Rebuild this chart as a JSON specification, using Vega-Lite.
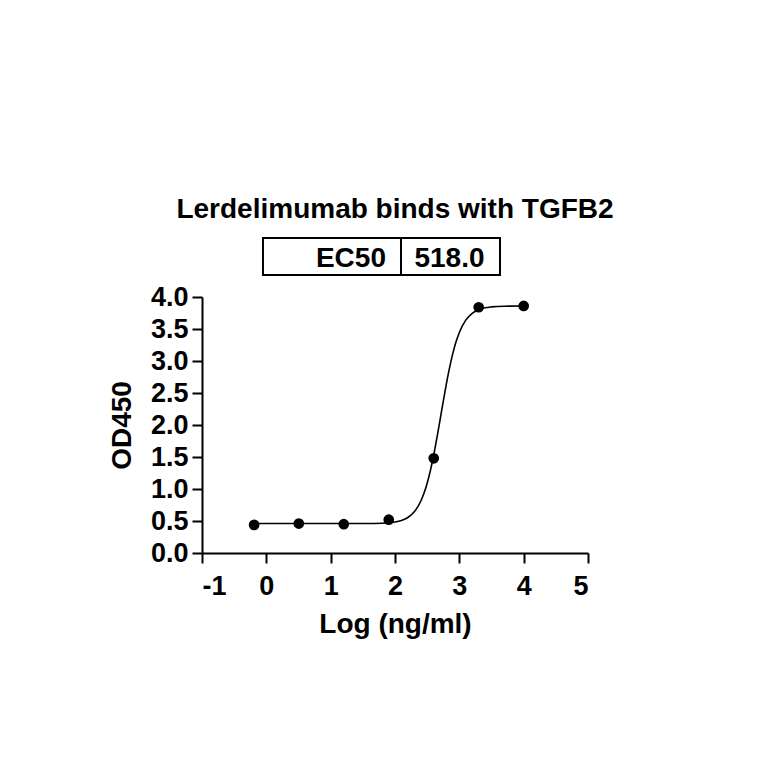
{
  "$schema": "https://vega.github.io/schema/vega-lite/v6.json",
  "autosize": "none",
  "width": 386,
  "height": 256,
  "padding": {"left": 202, "top": 297, "right": 176, "bottom": 211},
  "background": "white",
  "title": {
    "text": "Lerdelimumab binds with TGFB2",
    "font": "Liberation Sans",
    "fontWeight": "bold",
    "fontSize": 28,
    "color": "black",
    "anchor": "middle",
    "offset": 13
  },
  "config": {
    "view": {"stroke": null},
    "axis": {
      "domainColor": "black",
      "domainWidth": 2,
      "tickColor": "black",
      "tickWidth": 2,
      "tickSize": 10,
      "grid": false,
      "labelFont": "Liberation Sans",
      "labelFontWeight": "bold",
      "labelFontSize": 27,
      "labelColor": "black",
      "titleFont": "Liberation Sans",
      "titleFontWeight": "bold",
      "titleFontSize": 28,
      "titleColor": "black"
    }
  },
  "datasets": {
    "points": [
      {"logConc": -0.19, "od": 0.44},
      {"logConc": 0.505, "od": 0.46},
      {"logConc": 1.204, "od": 0.45},
      {"logConc": 1.903, "od": 0.52},
      {"logConc": 2.602, "od": 1.48},
      {"logConc": 3.301, "od": 3.84},
      {"logConc": 4.0, "od": 3.86}
    ],
    "fit": [
      {"logConc": -0.19, "od": 0.46},
      {"logConc": 0.5, "od": 0.46},
      {"logConc": 1.0, "od": 0.46},
      {"logConc": 1.5, "od": 0.461},
      {"logConc": 1.8, "od": 0.466},
      {"logConc": 2.0, "od": 0.484},
      {"logConc": 2.1, "od": 0.508},
      {"logConc": 2.2, "od": 0.555},
      {"logConc": 2.3, "od": 0.644},
      {"logConc": 2.4, "od": 0.809},
      {"logConc": 2.45, "od": 0.933},
      {"logConc": 2.5, "od": 1.091},
      {"logConc": 2.55, "od": 1.288},
      {"logConc": 2.6, "od": 1.523},
      {"logConc": 2.65, "od": 1.79},
      {"logConc": 2.7, "od": 2.077},
      {"logConc": 2.75, "od": 2.37},
      {"logConc": 2.8, "od": 2.651},
      {"logConc": 2.85, "od": 2.904},
      {"logConc": 2.9, "od": 3.123},
      {"logConc": 2.95, "od": 3.303},
      {"logConc": 3.0, "od": 3.446},
      {"logConc": 3.1, "od": 3.639},
      {"logConc": 3.2, "od": 3.746},
      {"logConc": 3.3, "od": 3.802},
      {"logConc": 3.4, "od": 3.831},
      {"logConc": 3.5, "od": 3.845},
      {"logConc": 3.7, "od": 3.856},
      {"logConc": 4.0, "od": 3.859}
    ],
    "ec50": [
      {"label": "EC50", "result": "518.0"}
    ]
  },
  "layer": [
    {
      "data": {"name": "fit"},
      "mark": {"type": "line", "color": "black", "strokeWidth": 1.6, "interpolate": "monotone"},
      "encoding": {
        "x": {
          "field": "logConc", "type": "quantitative", "title": "Log (ng/ml)",
          "scale": {"domain": [-1, 5], "nice": false, "zero": false},
          "axis": {"values": [-1, 0, 1, 2, 3, 4, 5], "format": "d", "labelExpr": "replace(datum.label, '\u2212', '-')", "labelPadding": 10, "titlePadding": 11}
        },
        "y": {
          "field": "od", "type": "quantitative", "title": "OD450",
          "scale": {"domain": [0, 4], "nice": false},
          "axis": {"values": [0, 0.5, 1, 1.5, 2, 2.5, 3, 3.5, 4], "format": ".1f", "labelPadding": 4, "titlePadding": 14}
        }
      }
    },
    {
      "data": {"name": "points"},
      "mark": {"type": "circle", "color": "black", "opacity": 1, "size": 115},
      "encoding": {
        "x": {
          "field": "logConc", "type": "quantitative", "title": "Log (ng/ml)",
          "scale": {"domain": [-1, 5], "nice": false, "zero": false},
          "axis": {"values": [-1, 0, 1, 2, 3, 4, 5], "format": "d", "labelExpr": "replace(datum.label, '\u2212', '-')", "labelPadding": 10, "titlePadding": 11}
        },
        "y": {
          "field": "od", "type": "quantitative", "title": "OD450",
          "scale": {"domain": [0, 4], "nice": false},
          "axis": {"values": [0, 0.5, 1, 1.5, 2, 2.5, 3, 3.5, 4], "format": ".1f", "labelPadding": 4, "titlePadding": 14}
        }
      }
    },
    {
      "data": {"name": "ec50"},
      "mark": {"type": "rect", "fill": "white", "stroke": "black", "strokeWidth": 2, "clip": false},
      "encoding": {
        "x": {
          "datum": -0.052, "type": "quantitative", "title": "Log (ng/ml)",
          "scale": {"domain": [-1, 5], "nice": false, "zero": false},
          "axis": {"values": [-1, 0, 1, 2, 3, 4, 5], "format": "d", "labelExpr": "replace(datum.label, '\u2212', '-')", "labelPadding": 10, "titlePadding": 11}
        },
        "x2": {"datum": 3.632},
        "y": {
          "datum": 4.344, "type": "quantitative", "title": "OD450",
          "scale": {"domain": [0, 4], "nice": false},
          "axis": {"values": [0, 0.5, 1, 1.5, 2, 2.5, 3, 3.5, 4], "format": ".1f", "labelPadding": 4, "titlePadding": 14}
        },
        "y2": {"datum": 4.922}
      }
    },
    {
      "data": {"name": "ec50"},
      "mark": {"type": "rule", "color": "black", "strokeWidth": 2, "clip": false},
      "encoding": {
        "x": {
          "datum": 2.093, "type": "quantitative", "title": "Log (ng/ml)",
          "scale": {"domain": [-1, 5], "nice": false, "zero": false},
          "axis": {"values": [-1, 0, 1, 2, 3, 4, 5], "format": "d", "labelExpr": "replace(datum.label, '\u2212', '-')", "labelPadding": 10, "titlePadding": 11}
        },
        "y": {
          "datum": 4.344, "type": "quantitative", "title": "OD450",
          "scale": {"domain": [0, 4], "nice": false},
          "axis": {"values": [0, 0.5, 1, 1.5, 2, 2.5, 3, 3.5, 4], "format": ".1f", "labelPadding": 4, "titlePadding": 14}
        },
        "y2": {"datum": 4.922}
      }
    },
    {
      "data": {"name": "ec50"},
      "mark": {"type": "text", "font": "Liberation Sans", "fontWeight": "bold", "fontSize": 28, "color": "black", "align": "right", "baseline": "alphabetic", "clip": false},
      "encoding": {
        "x": {
          "datum": 1.86, "type": "quantitative", "title": "Log (ng/ml)",
          "scale": {"domain": [-1, 5], "nice": false, "zero": false},
          "axis": {"values": [-1, 0, 1, 2, 3, 4, 5], "format": "d", "labelExpr": "replace(datum.label, '\u2212', '-')", "labelPadding": 10, "titlePadding": 11}
        },
        "y": {
          "datum": 4.469, "type": "quantitative", "title": "OD450",
          "scale": {"domain": [0, 4], "nice": false},
          "axis": {"values": [0, 0.5, 1, 1.5, 2, 2.5, 3, 3.5, 4], "format": ".1f", "labelPadding": 4, "titlePadding": 14}
        },
        "text": {"field": "label", "type": "nominal"}
      }
    },
    {
      "data": {"name": "ec50"},
      "mark": {"type": "text", "font": "Liberation Sans", "fontWeight": "bold", "fontSize": 28, "color": "black", "align": "center", "baseline": "alphabetic", "clip": false},
      "encoding": {
        "x": {
          "datum": 2.847, "type": "quantitative", "title": "Log (ng/ml)",
          "scale": {"domain": [-1, 5], "nice": false, "zero": false},
          "axis": {"values": [-1, 0, 1, 2, 3, 4, 5], "format": "d", "labelExpr": "replace(datum.label, '\u2212', '-')", "labelPadding": 10, "titlePadding": 11}
        },
        "y": {
          "datum": 4.469, "type": "quantitative", "title": "OD450",
          "scale": {"domain": [0, 4], "nice": false},
          "axis": {"values": [0, 0.5, 1, 1.5, 2, 2.5, 3, 3.5, 4], "format": ".1f", "labelPadding": 4, "titlePadding": 14}
        },
        "text": {"field": "result", "type": "nominal"}
      }
    }
  ]
}
